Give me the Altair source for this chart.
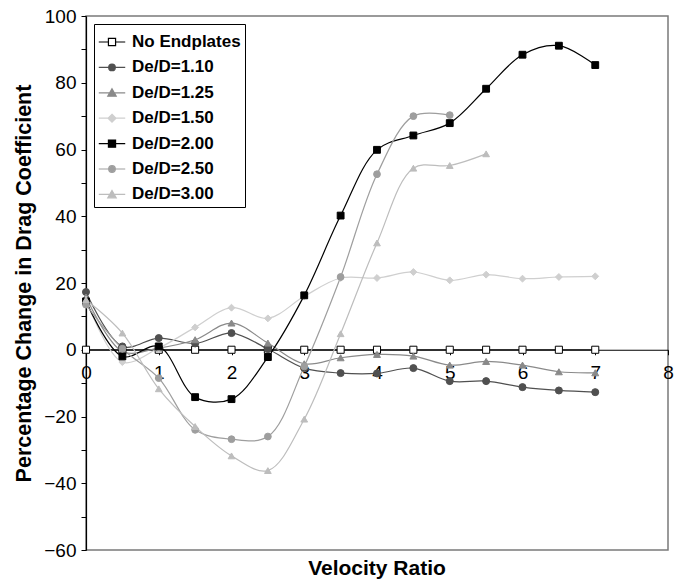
import altair as alt
import pandas as pd

# Velocity ratio sampled every 0.5
velocity = [0, 0.5, 1, 1.5, 2, 2.5, 3, 3.5, 4, 4.5, 5, 5.5, 6, 6.5, 7]

series_names = ["No Endplates", "De/D=1.10", "De/D=1.25", "De/D=1.50",
                "De/D=2.00", "De/D=2.50", "De/D=3.00"]

no_endplates = [0, 0, 0, 0, 0, 0, 0, 0, 0, 0, 0, 0, 0, 0, 0]
de_110 = [17.3, 1.0, 3.5, 1.9, 5.0, 0.2, -5.5, -7.0, -7.1, -5.5, -9.4, -9.4, -11.2, -12.2, -12.7]
de_125 = [15.8, -0.5, 0.5, 3.0, 8.0, 2.0, -4.2, -2.4, -1.4, -1.9, -4.6, -3.5, -4.6, -6.6, -6.9]
de_150 = [15.0, -3.7, 0.5, 6.7, 12.6, 9.4, 16.0, 21.5, 21.5, 23.3, 20.8, 22.5, 21.3, 21.8, 22.0]
de_200 = [14.5, -2.0, 1.0, -14.2, -14.8, -2.2, 16.3, 40.2, 59.9, 64.2, 67.9, 78.2, 88.4, 91.1, 85.3]
de_250 = [13.5, 0.3, -8.5, -24.0, -26.8, -26.0, -5.0, 21.8, 52.6, 70.0, 70.3]
de_300 = [15.0, 5.0, -11.7, -23.0, -31.8, -36.2, -20.8, 4.8, 32.0, 54.4, 55.2, 58.7]

series_values = [no_endplates, de_110, de_125, de_150, de_200, de_250, de_300]

stroke_colors = ["#000000", "#505050", "#8a8a8a", "#cfcfcf", "#000000", "#9e9e9e", "#bdbdbd"]
fill_colors = ["#ffffff", "#505050", "#8a8a8a", "#cfcfcf", "#000000", "#9e9e9e", "#bdbdbd"]
marker_shapes = ["square", "circle", "triangle-up", "diamond", "square", "circle", "triangle-up"]
marker_sizes = [50, 45, 70, 55, 55, 45, 70]

rows = []
for name, vals in zip(series_names, series_values):
    for v, pct in zip(velocity, vals):
        rows.append({"series": name, "velocity": v, "pct": pct})
df = pd.DataFrame(rows)

# Legend glyphs: a short line with the marker in the middle
seg_sq = "M-1,0H-0.27M0.27,0H1M-0.27,-0.27H0.27V0.27H-0.27Z"
seg_ci = "M-1,0H-0.25M0.25,0H1M-0.25,0A0.25,0.25,0,1,0,0.25,0A0.25,0.25,0,1,0,-0.25,0Z"
seg_tr = "M-1,0H-0.2M0.2,0H1M0,-0.3L0.32,0.26H-0.32Z"
seg_di = "M-1,0H-0.3M0.3,0H1M0,-0.3L0.3,0L0,0.3L-0.3,0Z"
legend_paths = [seg_sq, seg_ci, seg_tr, seg_di, seg_sq, seg_ci, seg_tr]

x_enc = alt.X(
    "velocity:Q",
    scale=alt.Scale(domain=[0, 8], nice=False),
    axis=alt.Axis(
        values=[0, 1, 2, 3, 4, 5, 6, 7, 8],
        title=None,
        offset=-200.25,
        grid=False,
        domainColor="#000000",
        domainWidth=1.2,
        tickColor="#000000",
        tickSize=5,
        labelFontSize=19,
        labelPadding=9,
        labelColor="#000000",
        labelFlush=False,
    ),
)
y_enc = alt.Y(
    "pct:Q",
    scale=alt.Scale(domain=[-60, 100], nice=False),
    axis=alt.Axis(
        values=list(range(-60, 101, 10)),
        labelExpr="datum.value % 20 == 0 ? datum.label : ''",
        title="Percentage Change in Drag Coefficient",
        titleFontSize=21.5,
        titleFontWeight="bold",
        titleColor="#000000",
        titlePadding=8,
        grid=False,
        domainColor="#000000",
        domainWidth=1.2,
        tickColor="#000000",
        tickSize=5,
        labelFontSize=19,
        labelPadding=5,
        labelColor="#000000",
    ),
)

lines = alt.Chart(df).mark_line(interpolate="catmull-rom", strokeWidth=1.2).encode(
    x=x_enc,
    y=y_enc,
    color=alt.Color("series:N", scale=alt.Scale(domain=series_names, range=stroke_colors), legend=None),
    detail="series:N",
)

points = alt.Chart(df).mark_point(filled=True, strokeWidth=1, opacity=1).encode(
    x=x_enc,
    y=y_enc,
    stroke=alt.Stroke("series:N", scale=alt.Scale(domain=series_names, range=stroke_colors), legend=None),
    fill=alt.Fill("series:N", scale=alt.Scale(domain=series_names, range=fill_colors), legend=None),
    shape=alt.Shape("series:N", scale=alt.Scale(domain=series_names, range=marker_shapes), legend=None),
    size=alt.Size("series:N", scale=alt.Scale(domain=series_names, range=marker_sizes), legend=None),
)

legend_cfg = alt.Legend(
    title=None,
    orient="none",
    legendX=8,
    legendY=8,
    direction="vertical",
    strokeColor="#000000",
    fillColor="#ffffff",
    padding=4,
    symbolSize=700,
    symbolStrokeWidth=1.2,
    symbolOpacity=1,
    labelFontSize=17,
    labelFontWeight="bold",
    labelColor="#000000",
    labelOffset=6,
    rowPadding=3.4,
)

# Key layer: no rows pass the filter, only its legend is drawn
key = alt.Chart(df).transform_filter(alt.datum.velocity < -100).mark_point(
    filled=True, strokeWidth=1.2, opacity=1, size=700
).encode(
    x=x_enc,
    y=y_enc,
    stroke=alt.Stroke("series:N", scale=alt.Scale(domain=series_names, range=stroke_colors), legend=legend_cfg),
    fill=alt.Fill("series:N", scale=alt.Scale(domain=series_names, range=fill_colors), legend=legend_cfg),
    shape=alt.Shape("series:N", scale=alt.Scale(domain=series_names, range=legend_paths), legend=legend_cfg),
)

chart = (
    alt.layer(lines, points, key)
    .resolve_scale(stroke="independent", fill="independent", shape="independent")
    .properties(
        width=582,
        height=534,
        autosize=alt.AutoSizeParams(type="none"),
        padding={"left": 86, "top": 16, "right": 13, "bottom": 31},
        background="#ffffff",
        title=alt.TitleParams(
            "Velocity Ratio",
            orient="bottom",
            fontSize=21,
            fontWeight="bold",
            color="#000000",
            offset=-2,
        ),
    )
    .configure(font="Liberation Sans")
    .configure_view(stroke="#7a7a7a", strokeWidth=1.5)
)

chart.save("out.html", embed_options={"renderer": "svg", "actions": False})
